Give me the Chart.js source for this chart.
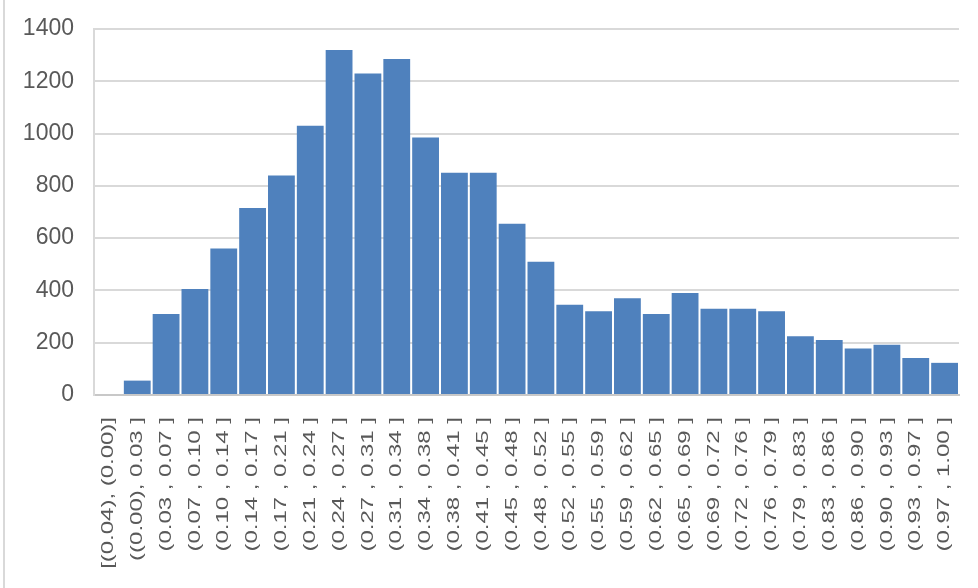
<!DOCTYPE html>
<html>
<head>
<meta charset="utf-8">
<script src="https://cdn.jsdelivr.net/npm/chart.js@4.4.1/dist/chart.umd.min.js"></script>
<style>
  html, body { margin: 0; padding: 0; background: #ffffff; }
  #wrap { position: relative; width: 978px; height: 588px; overflow: hidden; }
  #edge { position: absolute; left: 3px; top: 0; width: 2px; height: 588px; background: #d9d9d9; }
  canvas { position: absolute; left: 0; top: 0; }
</style>
</head>
<body>
<div id="wrap">
  <canvas id="c" width="978" height="588"></canvas>
  <div id="edge"></div>
</div>
<script>
const categories = [
  "[(0.04), (0.00)]", "((0.00), 0.03 ]", "(0.03 , 0.07 ]", "(0.07 , 0.10 ]", "(0.10 , 0.14 ]",
  "(0.14 , 0.17 ]", "(0.17 , 0.21 ]", "(0.21 , 0.24 ]", "(0.24 , 0.27 ]", "(0.27 , 0.31 ]",
  "(0.31 , 0.34 ]", "(0.34 , 0.38 ]", "(0.38 , 0.41 ]", "(0.41 , 0.45 ]", "(0.45 , 0.48 ]",
  "(0.48 , 0.52 ]", "(0.52 , 0.55 ]", "(0.55 , 0.59 ]", "(0.59 , 0.62 ]", "(0.62 , 0.65 ]",
  "(0.65 , 0.69 ]", "(0.69 , 0.72 ]", "(0.72 , 0.76 ]", "(0.76 , 0.79 ]", "(0.79 , 0.83 ]",
  "(0.83 , 0.86 ]", "(0.86 , 0.90 ]", "(0.90 , 0.93 ]", "(0.93 , 0.97 ]", "(0.97 , 1.00 ]"
];
const counts = [
  0, 55, 310, 405, 560, 715, 840, 1030, 1320, 1230,
  1285, 985, 850, 850, 655, 510, 345, 320, 370, 310,
  390, 330, 330, 320, 225, 210, 178, 192, 142, 123
];
const yTicks = [0, 200, 400, 600, 800, 1000, 1200, 1400];

const LABEL_PAD = 22;
const STRETCH = 1.41;

const stretchLabels = {
  id: 'stretchLabels',
  beforeDraw(chart) {
    const sc = chart.scales.x;
    if (sc._patched) return;
    const orig = sc.drawLabels.bind(sc);
    sc.drawLabels = function (area) {
      const ctx = sc.ctx;
      const y0 = sc.top + LABEL_PAD;
      ctx.save();
      ctx.translate(0, y0);
      ctx.scale(1, STRETCH);
      ctx.translate(0, -y0);
      orig(area);
      ctx.restore();
    };
    sc._patched = true;
  }
};

new Chart(document.getElementById('c'), {
  type: 'bar',
  data: {
    labels: categories,
    datasets: [{
      data: counts,
      backgroundColor: '#4f81bd',
      borderWidth: 0,
      barPercentage: 0.93,
      categoryPercentage: 1.0
    }]
  },
  options: {
    responsive: false,
    animation: false,
    layout: { padding: { top: 29, right: 19, bottom: 0, left: 0 } },
    plugins: { legend: { display: false }, tooltip: { enabled: false } },
    scales: {
      x: {
        grid: { display: false, drawTicks: false },
        border: { display: true, color: '#c8c8c8', width: 2 },
        ticks: {
          autoSkip: false,
          maxRotation: 90,
          minRotation: 90,
          padding: LABEL_PAD,
          color: '#595959',
          font: { family: 'Liberation Sans', size: 17 }
        },
        afterFit(s) { s.height = 193; s.paddingLeft = 0; s.paddingRight = 0; }
      },
      y: {
        min: 0,
        max: 1400,
        afterBuildTicks(s) { s.ticks = yTicks.map(v => ({ value: v })); },
        grid: { color: '#d9d9d9', lineWidth: 2, drawTicks: false },
        border: { display: true, color: '#d9d9d9', width: 2 },
        ticks: {
          padding: 20,
          color: '#595959',
          font: { family: 'Liberation Sans', size: 23 },
          callback: (v) => String(v)
        },
        afterFit(s) { s.width = 94; s.paddingTop = 0; s.paddingBottom = 0; }
      }
    }
  },
  plugins: [stretchLabels]
});
</script>
</body>
</html>
